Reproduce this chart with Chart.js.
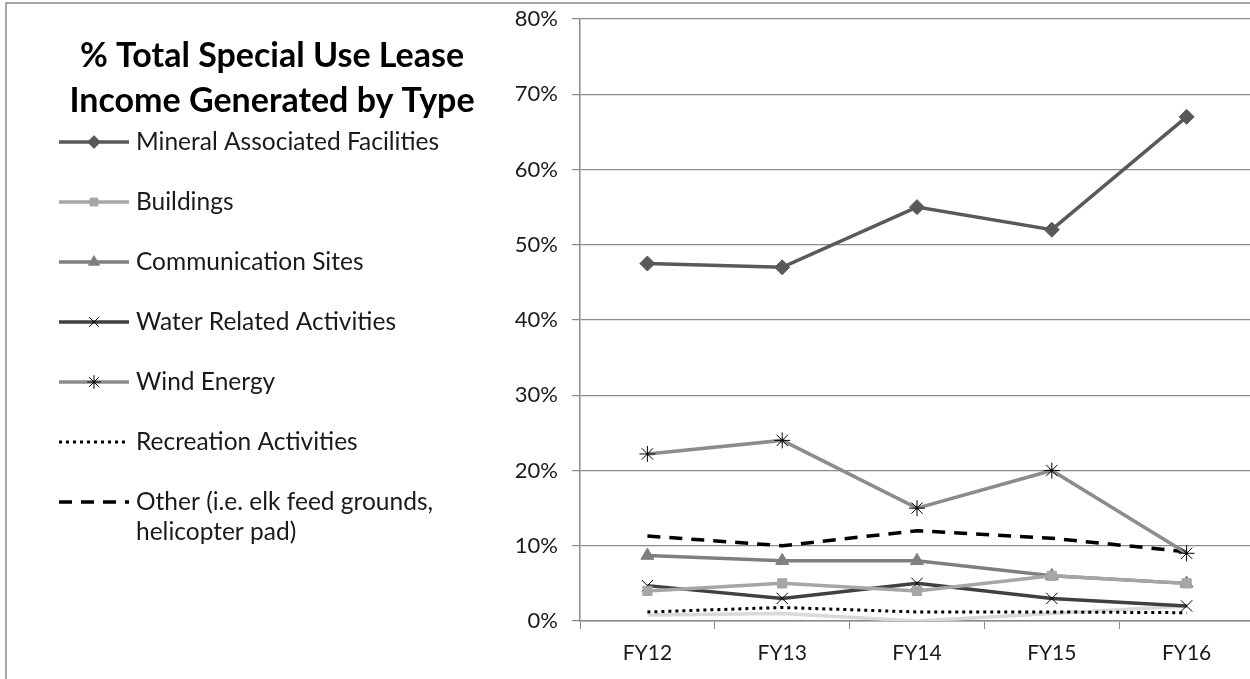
<!DOCTYPE html>
<html>
<head>
<meta charset="utf-8">
<script src="https://cdn.jsdelivr.net/npm/chart.js@4/dist/chart.umd.min.js"></script>
<style>
  html, body { margin: 0; padding: 0; background: #fff; overflow: hidden; }
  #wrap { width: 1250px; height: 679px; position: relative; overflow: hidden; }
</style>
</head>
<body>
<div id="wrap"><canvas id="myChart" width="1254" height="679"></canvas></div>
<script>
// categories + values (percent of total special use lease income)
const years = ["FY12", "FY13", "FY14", "FY15", "FY16"];
const mineralValues = [47.5, 47, 55, 52, 67];
const buildingValues = [4, 5, 4, 6, 5];
const commValues = [8.7, 8, 8, 6, 5];
const waterValues = [4.7, 3, 5, 3, 2];
const windValues = [22.2, 24, 15, 20, 9];
const recreationValues = [1.2, 1.8, 1.2, 1.2, 1.1];
const otherValues = [11.3, 10, 12, 11, 9.2];
const unlabeledValues = [0.8, 1, 0, 1, 2]; // faint line with no legend entry
const yTicks = [0, 10, 20, 30, 40, 50, 60, 70, 80];

const titleLines = ["% Total Special Use Lease", "Income Generated by Type"];

// draws the frame, title and a line+marker legend on the left side
const sideLegend = {
  id: "sideLegend",
  beforeDraw(chart) {
    const ctx = chart.ctx;
    ctx.save();
    ctx.strokeStyle = "#8a8a8a";
    ctx.lineWidth = 1.5;
    ctx.beginPath();
    ctx.moveTo(6, 700);
    ctx.lineTo(6, 3);
    ctx.lineTo(1270, 3);
    ctx.stroke();
    ctx.restore();
  },
  afterDraw(chart) {
    const ctx = chart.ctx;
    ctx.save();
    ctx.fillStyle = "#000";
    ctx.font = "bold 34px Lato";
    ctx.textAlign = "center";
    ctx.textBaseline = "middle";
    titleLines.forEach(function (line, i) {
      ctx.fillText(line, 272, 56 + i * 45);
    });

    let y = 142;
    chart.data.datasets.forEach(function (ds) {
      if (!ds.label) return;
      // sample line
      ctx.save();
      ctx.strokeStyle = ds.borderColor;
      ctx.lineWidth = ds.borderWidth;
      ctx.setLineDash(ds.borderDash || []);
      ctx.beginPath();
      ctx.moveTo(59, y);
      ctx.lineTo(129, y);
      ctx.stroke();
      ctx.restore();
      // marker
      if (ds.pointRadius > 0) {
        ctx.save();
        ctx.fillStyle = ds.pointBackgroundColor;
        ctx.strokeStyle = ds.pointBorderColor;
        Chart.helpers.drawPoint(ctx, {
          pointStyle: ds.pointStyle,
          radius: ds.pointRadius * 0.85,
          rotation: 0,
          borderWidth: ds.pointBorderWidth,
        }, 94, y);
        ctx.restore();
      }
      // text
      ctx.fillStyle = "#1a1a1a";
      ctx.font = "24.5px Lato";
      ctx.textAlign = "left";
      const parts = ds.label.split("\n");
      parts.forEach(function (p, i) {
        ctx.fillText(p, 136, y + i * 30);
      });
      y += 60;
    });
    ctx.restore();
  },
};

function makeSeries(label, data, color, width, style, radius, markerFill, markerBorder, dash) {
  return {
    label: label,
    data: data,
    borderColor: color,
    backgroundColor: color,
    borderWidth: width,
    borderDash: dash || [],
    pointStyle: style,
    pointRadius: radius,
    pointHoverRadius: radius,
    pointBackgroundColor: markerFill,
    pointBorderColor: markerBorder,
    pointBorderWidth: 1,
    tension: 0,
    fill: false,
  };
}

const datasets = [
  makeSeries("Mineral Associated Facilities", mineralValues, "#595959", 3.5, "rectRot", 7.5, "#595959", "#595959"),
  makeSeries("Buildings", buildingValues, "#a6a6a6", 3.5, "rect", 6.5, "#a6a6a6", "#a6a6a6"),
  makeSeries("Communication Sites", commValues, "#7f7f7f", 3.5, "triangle", 7.5, "#7f7f7f", "#7f7f7f"),
  makeSeries("Water Related Activities", waterValues, "#404040", 3.5, "crossRot", 8, "#000", "#000"),
  makeSeries("Wind Energy", windValues, "#8c8c8c", 3.5, "star", 8, "#000", "#000"),
  makeSeries("Recreation Activities", recreationValues, "#000", 3, false, 0, "#000", "#000", [3, 4]),
  makeSeries("Other (i.e. elk feed grounds,\nhelicopter pad)", otherValues, "#000", 3.5, false, 0, "#000", "#000", [13, 9]),
  makeSeries("", unlabeledValues, "#d9d9d9", 3.5, false, 0, "#d9d9d9", "#d9d9d9"),
];
// faint line sits underneath the others
datasets[7].order = 10;

new Chart(document.getElementById("myChart"), {
  type: "line",
  data: { labels: years, datasets: datasets },
  options: {
    responsive: false,
    animation: false,
    layout: { autoPadding: false, padding: { left: 480, top: 19, right: 0, bottom: 0 } },
    plugins: {
      legend: { display: false },
      tooltip: { enabled: false },
    },
    scales: {
      x: {
        offset: true,
        grid: {
          offset: true,
          drawOnChartArea: false,
          drawTicks: true,
          tickLength: 8,
          color: "#8a8a8a",
        },
        border: { color: "#8a8a8a", width: 1.5 },
        ticks: {
          color: "#1a1a1a",
          font: { family: "Lato", size: 21 },
          padding: 12,
          maxRotation: 0,
        },
        afterFit(scale) {
          scale.height = 58;
          scale.paddingLeft = 0;
          scale.paddingRight = 0;
        },
      },
      y: {
        min: 0,
        max: 80,
        afterBuildTicks(scale) {
          scale.ticks = yTicks.map(function (v) { return { value: v }; });
        },
        grid: {
          color: "#8a8a8a",
          lineWidth: 1.2,
          tickLength: 8,
        },
        border: { color: "#8a8a8a", width: 1.5 },
        ticks: {
          color: "#1a1a1a",
          font: { family: "Lato", size: 22 },
          padding: 14,
          callback: function (v) { return v + "%"; },
        },
        afterFit(scale) {
          scale.width = 100;
          scale.paddingTop = 0;
          scale.paddingBottom = 0;
        },
      },
    },
  },
  plugins: [sideLegend],
});
</script>
</body>
</html>
